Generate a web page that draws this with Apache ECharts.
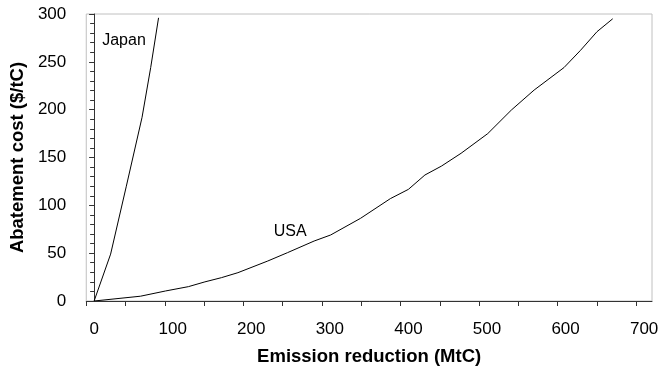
<!DOCTYPE html>
<html>
<head>
<meta charset="utf-8">
<script src="https://cdn.jsdelivr.net/npm/echarts@6/dist/echarts.min.js"></script>
<style>
html,body{margin:0;padding:0;background:#fff;}
#chart{width:663px;height:377px;}
</style>
</head>
<body>
<div id="chart"></div>
<script>
// Data
var japanX = [0, 21, 41, 61, 72, 82];
var japanY = [0, 49, 120, 192, 244, 296];

var usaX = [0, 59, 91, 120, 141, 162, 183, 221, 246, 280, 301, 339, 377, 400, 421, 442, 467, 501, 531, 560, 598, 619, 640, 660];
var usaY = [0, 5, 10.5, 15, 20, 24.4, 29.6, 41.8, 50.5, 62.7, 69, 86.4, 107, 116.7, 131.7, 141, 154.4, 175, 199.6, 220.5, 244, 262, 281.5, 295];

var xTickLabels = [0, 100, 200, 300, 400, 500, 600, 700];
var xTickMarks = [-10, 40, 90, 140, 190, 240, 290, 340, 390, 440, 490, 540, 590, 640, 690];
var yTickLabels = [0, 50, 100, 150, 200, 250, 300];

function pairs(xs, ys) { return xs.map(function (x, i) { return [x, ys[i]]; }); }

var font = 'Arial, "Liberation Sans", sans-serif';
var chart = echarts.init(document.getElementById('chart'), null, {renderer: 'canvas'});
chart.setOption({
  animation: false,
  backgroundColor: '#fff',
  grid: {left: 82, right: 11, top: 14, bottom: 76, show: true, borderColor: '#c0c0c0', borderWidth: 1},
  xAxis: {
    type: 'value', min: -10, max: 710,
    name: 'Emission reduction (MtC)', nameLocation: 'middle', nameGap: 46,
    nameTextStyle: {fontFamily: font, fontSize: 18.5, fontWeight: 'bold', color: '#000'},
    axisLine: {show: true, onZero: false, lineStyle: {color: '#333', width: 1}},
    axisTick: {show: true, length: 5, lineStyle: {color: '#333'}, customValues: xTickMarks},
    axisLabel: {customValues: xTickLabels, margin: 20, fontFamily: font, fontSize: 17, color: '#000'},
    splitLine: {show: false}
  },
  yAxis: {
    type: 'value', min: 0, max: 300, interval: 50,
    name: 'Abatement cost ($/tC)', nameLocation: 'middle', nameGap: 50,
    nameTextStyle: {fontFamily: font, fontSize: 18.5, fontWeight: 'bold', color: '#000'},
    axisLine: {show: true, lineStyle: {color: '#333', width: 1}},
    axisTick: {show: true, length: 5, lineStyle: {color: '#333'}},
    minorTick: {show: true, splitNumber: 5, length: 4, lineStyle: {color: '#333'}},
    axisLabel: {margin: 20, fontFamily: font, fontSize: 17, color: '#000',
      customValues: yTickLabels},
    splitLine: {show: false}
  },
  series: [
    {
      name: 'Japan', type: 'line', data: pairs(japanX, japanY),
      symbol: 'none', lineStyle: {color: '#000', width: 1}, silent: true,
      markPoint: {symbolSize: 0, silent: true,
        label: {show: true, formatter: 'Japan', fontFamily: font, fontSize: 16, color: '#000', position: 'inside'},
        data: [{coord: [38, 272]}]}
    },
    {
      name: 'USA', type: 'line', data: pairs(usaX, usaY),
      symbol: 'none', lineStyle: {color: '#000', width: 1}, silent: true,
      markPoint: {symbolSize: 0, silent: true,
        label: {show: true, formatter: 'USA', fontFamily: font, fontSize: 16, color: '#000', position: 'inside'},
        data: [{coord: [249.5, 73]}]}
    }
  ]
});
</script>
</body>
</html>
